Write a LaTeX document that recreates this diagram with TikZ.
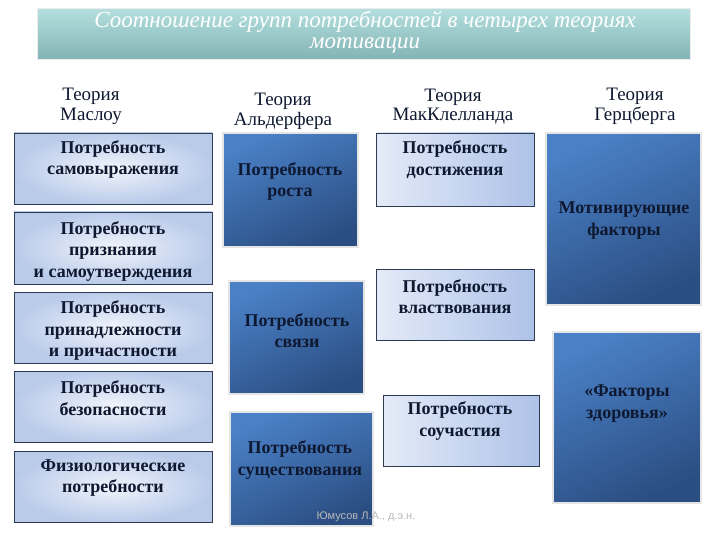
\documentclass[tikz,border=0pt]{standalone}
\usepackage{fontspec}
\setmainfont{Liberation Serif}
\newfontfamily\notefont{Liberation Sans}
\usepackage{xcolor}
\usepackage{tikz}
\usetikzlibrary{positioning, shadows}

\definecolor{titletop}{HTML}{B4DEDE}
\definecolor{titlebot}{HTML}{82B3B4}
\definecolor{paleA}{HTML}{E4EBF8}
\definecolor{paleB}{HTML}{AEC2E8}
\definecolor{paleC}{HTML}{F0F4FB}
\definecolor{paleD}{HTML}{BACBEA}
\definecolor{deepA}{HTML}{4A80C6}
\definecolor{deepB}{HTML}{2B4E82}
\definecolor{inktxt}{HTML}{0E1830}
\definecolor{rimdark}{HTML}{2E3A52}

\tikzset{
  titlebar/.style={draw=white!85!gray, line width=1pt, top color=titletop, bottom color=titlebot},
  paletile/.style={draw=rimdark, line width=0.8pt, left color=paleA, right color=paleB,
    drop shadow={shadow xshift=1pt, shadow yshift=-1.2pt, fill=rimdark, opacity=0.9}},
  cloudtile/.style={draw=rimdark, line width=0.8pt, inner color=paleC, outer color=paleD,
    drop shadow={shadow xshift=1pt, shadow yshift=-1.2pt, fill=rimdark, opacity=0.9}},
  deeptile/.style={draw=white!80!gray, line width=1.2pt, top color=deepA, bottom color=deepB, shading angle=25},
  tiletxt/.style={text=inktxt, align=center, font=\bfseries\fontsize{18}{21.5}\selectfont},
  headtxt/.style={text=inktxt, align=center, font=\fontsize{19}{19.5}\selectfont},
}

\begin{document}
\begin{tikzpicture}[x=1pt, y=-1pt]
\useasboundingbox (0,0) rectangle (720,540);

% заголовок
\node[titlebar, minimum width=653, minimum height=51] (title) at (363.5,34.5) {};
\node[text=white, align=center, font=\itshape\fontsize{23}{21}\selectfont] (titletxt) at (365,32)
  {Соотношение групп потребностей в четырех теориях\\мотивации};

% теории
\node[headtxt] (hmaslow) at (91,106.5) {Теория\\Маслоу};
\node[headtxt] (halder) at (283,111.5) {Теория\\Альдерфера};
\node[headtxt] (hmccl) at (453,106.5) {Теория\\МакКлелланда};
\node[headtxt] (hherz) at (635,106.5) {Теория\\Герцберга};

% Маслоу
\node[cloudtile, minimum width=198, minimum height=71] (mas1) at (113,168.5) {};
\node[tiletxt] (mas1t) at (113,159.5) {Потребность\\самовыражения};
\node[cloudtile, minimum width=198, minimum height=72] (mas2) at (113,248) {};
\node[tiletxt] (mas2t) at (113,251) {Потребность\\признания\\и самоутверждения};
\node[cloudtile, minimum width=198, minimum height=71] (mas3) at (113,327.5) {};
\node[tiletxt] (mas3t) at (113,330.5) {Потребность\\принадлежности\\и причастности};
\node[cloudtile, minimum width=198, minimum height=71] (mas4) at (113,406.5) {};
\node[tiletxt] (mas4t) at (113,398) {Потребность\\безопасности};
\node[cloudtile, minimum width=198, minimum height=71] (mas5) at (113,486.5) {};
\node[tiletxt] (mas5t) at (113,478) {Физиологические\\потребности};

% Альдерфер
\node[deeptile, minimum width=135, minimum height=114] (ald1) at (290.5,190) {};
\node[tiletxt] (ald1t) at (290,181.5) {Потребность\\роста};
\node[deeptile, minimum width=135, minimum height=113] (ald2) at (296.5,337.5) {};
\node[tiletxt] (ald2t) at (297,330.5) {Потребность\\связи};
\node[deeptile, minimum width=143, minimum height=114] (ald3) at (301.5,469) {};
\node[tiletxt] (ald3t) at (300,460) {Потребность\\существования};

% МакКлелланд
\node[paletile, minimum width=158, minimum height=73] (mcc1) at (455,169.5) {};
\node[tiletxt] (mcc1t) at (455,159.5) {Потребность\\достижения};
\node[paletile, minimum width=158, minimum height=71] (mcc2) at (455,304.5) {};
\node[tiletxt] (mcc2t) at (455,296.5) {Потребность\\властвования};
\node[paletile, minimum width=156, minimum height=71] (mcc3) at (461,430.5) {};
\node[tiletxt] (mcc3t) at (460,421) {Потребность\\соучастия};

% Герцберг
\node[deeptile, minimum width=155, minimum height=172] (her1) at (623.5,219) {};
\node[tiletxt] (her1t) at (624,220.5) {Мотивирующие\\факторы};
\node[deeptile, minimum width=148, minimum height=171] (her2) at (627,417.5) {};
\node[tiletxt] (her2t) at (627,403.5) {«Факторы\\здоровья»};

\node[text=black!28, font=\notefont\fontsize{11}{12}\selectfont] (author) at (366,517) {Юмусов Л.А., д.э.н.};
\end{tikzpicture}
\end{document}
